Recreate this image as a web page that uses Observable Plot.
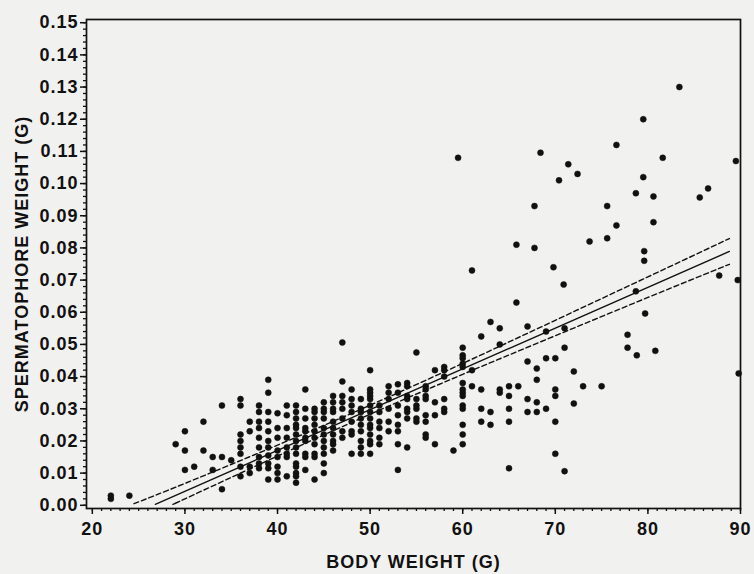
<!DOCTYPE html>
<html><head><meta charset="utf-8">
<script src="https://cdn.jsdelivr.net/npm/d3@7"></script>
<script src="https://cdn.jsdelivr.net/npm/@observablehq/plot@0.6"></script>
<style>html,body{margin:0;padding:0;background:#f1f1ef;}</style>
</head><body><div id="chart"></div>
<script>
// [body weight (g), spermatophore weight (g)]
const specimens = [
[22,0.002],[22,0.003],[24,0.003],
[29,0.019],
[30,0.023],[30,0.017],[30,0.011],
[31,0.012],
[32,0.026],[32,0.017],
[33,0.015],[33,0.011],
[34,0.031],[34,0.015],[34,0.005],
[35,0.014],
[36,0.033],[36,0.031],[36,0.022],[36,0.020],[36,0.018],[36,0.016],[36,0.012],[36,0.009],
[37,0.026],[37,0.023],[37,0.012],[37,0.010],
[38,0.031],[38,0.029],[38,0.026],[38,0.024],[38,0.021],[38,0.018],[38,0.015],[38,0.013],[38,0.0115],
[39,0.039],[39,0.035],[39,0.029],[39,0.026],[39,0.023],[39,0.020],[39,0.018],[39,0.0155],[39,0.013],[39,0.0115],[39,0.008],
[40,0.0286],[40,0.024],[40,0.021],[40,0.017],[40,0.015],[40,0.012],[40,0.010],[40,0.008],
[41,0.031],[41,0.028],[41,0.024],[41,0.021],[41,0.018],[41,0.016],[41,0.015],[41,0.009],
[42,0.031],[42,0.029],[42,0.027],[42,0.025],[42,0.024],[42,0.022],[42,0.020],[42,0.018],[42,0.016],[42,0.013],[42,0.012],[42,0.010],[42,0.009],[42,0.007],
[43,0.036],[43,0.030],[43,0.027],[43,0.024],[43,0.023],[43,0.021],[43,0.020],[43,0.016],[43,0.015],[43,0.011],
[44,0.030],[44,0.029],[44,0.027],[44,0.025],[44,0.023],[44,0.021],[44,0.019],[44,0.016],[44,0.015],[44,0.008],
[45,0.032],[45,0.030],[45,0.029],[45,0.027],[45,0.024],[45,0.022],[45,0.020],[45,0.018],[45,0.016],[45,0.013],[45,0.010],
[46,0.034],[46,0.032],[46,0.030],[46,0.029],[46,0.026],[46,0.024],[46,0.022],[46,0.020],[46,0.019],[46,0.017],
[47,0.0506],[47,0.0385],[47,0.034],[47,0.032],[47,0.030],[47,0.027],[47,0.023],[47,0.021],
[48,0.036],[48,0.033],[48,0.031],[48,0.029],[48,0.026],[48,0.023],[48,0.022],[48,0.016],
[49,0.033],[49,0.030],[49,0.029],[49,0.027],[49,0.025],[49,0.023],[49,0.020],[49,0.018],[49,0.016],
[50,0.042],[50,0.036],[50,0.035],[50,0.034],[50,0.033],[50,0.031],[50,0.029],[50,0.027],[50,0.025],[50,0.024],[50,0.022],[50,0.020],[50,0.019],[50,0.016],
[51,0.031],[51,0.029],[51,0.026],[51,0.024],[51,0.021],[51,0.019],
[52,0.037],[52,0.035],[52,0.033],[52,0.030],[52,0.026],[52,0.023],
[53,0.0376],[53,0.035],[53,0.031],[53,0.028],[53,0.025],[53,0.023],[53,0.019],[53,0.011],
[54,0.038],[54,0.037],[54,0.034],[54,0.033],[54,0.030],[54,0.029],[54,0.027],[54,0.018],
[55,0.0475],[55,0.033],[55,0.031],[55,0.030],[55,0.027],[55,0.026],
[56,0.037],[56,0.036],[56,0.034],[56,0.033],[56,0.028],[56,0.026],[56,0.022],[56,0.021],
[57,0.042],[57,0.032],[57,0.028],[57,0.019],
[58,0.043],[58,0.042],[58,0.040],[58,0.033],[58,0.030],[58,0.029],
[59,0.017],[59.5,0.108],
[60,0.049],[60,0.0466],[60,0.0457],[60,0.044],[60,0.043],[60,0.038],[60,0.036],[60,0.035],[60,0.034],[60,0.031],[60,0.030],[60,0.025],[60,0.022],[60,0.019],
[61,0.073],[61,0.042],[61,0.037],
[62,0.0525],[62,0.036],[62,0.030],[62,0.026],
[63,0.057],[63,0.029],[63,0.025],
[64,0.055],[64,0.050],[64,0.036],[64,0.035],
[65,0.037],[65,0.034],[65,0.030],[65,0.026],[65,0.0115],
[65.8,0.081],[65.8,0.063],[66,0.037],
[67,0.0556],[67,0.0447],[67,0.033],[67,0.029],
[67.75,0.093],[67.75,0.080],[68,0.0425],[68,0.039],[68,0.032],[68,0.029],
[68.4,0.1096],
[69,0.054],[69,0.0457],[69,0.030],
[69.8,0.074],[70,0.0457],[70,0.036],[70,0.034],[70,0.026],[70,0.016],
[70.4,0.101],[70.9,0.0686],[71,0.055],[71,0.049],[71,0.0106],
[71.4,0.106],[72,0.0416],[72,0.0316],[72.4,0.103],
[73,0.037],[73.7,0.082],[75,0.037],
[75.6,0.093],[75.6,0.083],[76.6,0.112],[76.6,0.087],
[77.8,0.053],[77.8,0.049],
[78.7,0.097],[78.7,0.0665],[78.8,0.0466],
[79.5,0.120],[79.5,0.102],[79.6,0.079],[79.6,0.076],[79.7,0.0596],
[80.6,0.096],[80.6,0.088],[80.8,0.048],
[81.6,0.108],[83.4,0.130],[85.6,0.0957],[86.5,0.0985],[87.7,0.0714],
[89.5,0.107],[89.7,0.070],[89.8,0.041]
];

// regression line and confidence band
const fitLine = [[26.8,0.0003],[88.8,0.0789]];
const upperBand = [[24.5,0.0005],[30,0.0068],[40,0.0187],[50,0.0311],[60,0.0441],[70,0.0575],[80,0.0710],[88.8,0.0829]];
const lowerBand = [[29.2,0.0009],[30,0.0020],[40,0.0153],[50,0.0283],[60,0.0407],[70,0.0527],[80,0.0646],[88.8,0.0749]];

const xTicks = [20,30,40,50,60,70,80,90];
const yTicks = [0,0.01,0.02,0.03,0.04,0.05,0.06,0.07,0.08,0.09,0.10,0.11,0.12,0.13,0.14,0.15];
const xMinor = d3.range(20,91,1);
const yMinor = d3.range(0,76,1).map(i => i*0.002);
const xLabel = "BODY WEIGHT (G)";
const yLabel = "SPERMATOPHORE WEIGHT (G)";

const chart = Plot.plot({
  width: 754, height: 574,
  marginLeft: 86, marginRight: 14, marginTop: 19, marginBottom: 66,
  style: {background: "#f1f1ef", fontFamily: "'Liberation Sans', Arial, sans-serif", fontSize: "18px", fontWeight: "bold", letterSpacing: "1px", color: "#111"},
  x: {domain: [19.37, 90]},
  y: {domain: [-0.001, 0.151]},
  marks: [
    Plot.axisX({ticks: xMinor, tickSize: 3, tickFormat: () => "", label: null, strokeWidth: 1.3}),
    Plot.axisX({ticks: xTicks, tickSize: 6, tickPadding: 8, tickFormat: d => String(d), label: null, strokeWidth: 1.5}),
    Plot.axisY({ticks: yMinor, tickSize: 3, tickFormat: () => "", label: null, strokeWidth: 1.3}),
    Plot.axisY({ticks: yTicks, tickSize: 6, tickPadding: 2, tickFormat: d3.format(".2f"), label: null, strokeWidth: 1.5}),
    Plot.frame({stroke: "#111", strokeWidth: 1.7}),
    Plot.line(fitLine, {x: d => d[0], y: d => d[1], stroke: "#111", strokeWidth: 1.4}),
    Plot.line(upperBand, {x: d => d[0], y: d => d[1], stroke: "#111", strokeWidth: 1.4, strokeDasharray: "5,3", curve: "natural"}),
    Plot.line(lowerBand, {x: d => d[0], y: d => d[1], stroke: "#111", strokeWidth: 1.4, strokeDasharray: "5,3", curve: "natural"}),
    Plot.dot(specimens, {x: d => d[0], y: d => d[1], r: 3, fill: "#111", stroke: "#111", strokeWidth: 0.5}),
    Plot.text([xLabel], {frameAnchor: "bottom", dy: 54, lineAnchor: "middle", textAnchor: "middle", text: d => d, fill: "#111"}),
    Plot.text([yLabel], {frameAnchor: "left", dx: -64, rotate: -90, lineAnchor: "middle", textAnchor: "middle", text: d => d, fill: "#111"})
  ]
});
document.getElementById("chart").appendChild(chart);
</script>
</body></html>
